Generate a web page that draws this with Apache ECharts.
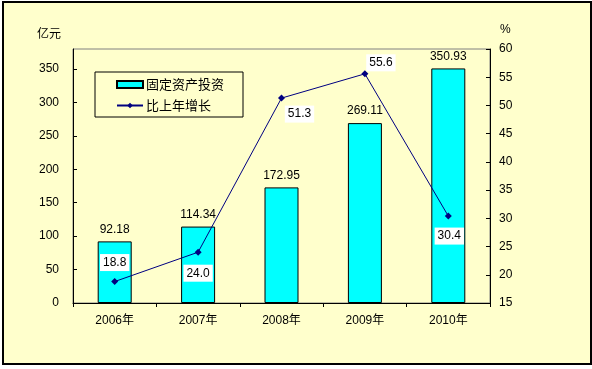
<!DOCTYPE html>
<html><head><meta charset="utf-8">
<script src="https://cdn.jsdelivr.net/npm/echarts@6/dist/echarts.min.js"></script>
<style>html,body{margin:0;padding:0;background:#fff}#c{width:592px;height:369px}</style>
</head><body><div id="c"></div>
<script>
const categories = ['2006年','2007年','2008年','2009年','2010年'];
const investment = [92.18, 114.34, 172.95, 269.11, 350.93];
const growth = [18.8, 24.0, 51.3, 55.6, 30.4];
const leftTicks = {min:0, max:380, interval:50};
const rightTicks = {min:15, max:60, interval:5};

// label offsets for growth labels (style only)
const growthLabelOffsets = [[0,-19],[0,21],[18,16],[16,-11],[1,20]];

const FONT = 'Liberation Sans, Arial, Noto Sans CJK SC, sans-serif';
const chart = echarts.init(document.getElementById('c'), null, {renderer:'canvas'});
chart.setOption({
  backgroundColor: '#fff',
  animation: false,
  textStyle: {fontFamily: FONT},
  graphic: [{
    type: 'rect', z: -10,
    shape: {x: 3, y: 2, width: 588, height: 362},
    style: {fill: '#FFFFCC', stroke: '#000', lineWidth: 2}
  }, {
    type: 'text', left: 37, top: 27,
    style: {text: '亿元', font: '12px Noto Sans CJK SC', fill: '#000'}
  }, {
    type: 'text', left: 500, top: 24,
    style: {text: '%', font: '12px Liberation Sans', fill: '#000'}
  }],
  grid: {left: 73, top: 49, width: 417, height: 254, show: true, borderColor: '#808080', borderWidth: 1, backgroundColor: 'transparent'},
  legend: {
    left: 95, top: 72, orient: 'vertical',
    borderColor: '#000', borderWidth: 1, borderRadius: 0,
    padding: [6, 19, 5, 21],
    itemWidth: 26, itemHeight: 7, itemGap: 8,
    textStyle: {fontSize: 13, fontFamily: 'Noto Sans CJK SC', color: '#000', padding: [0,0,0,-2]},
    data: [{name: '固定资产投资', icon: 'rect'}, {name: '比上年增长'}]
  },
  xAxis: {
    type: 'category', data: categories,
    axisLine: {lineStyle: {color: '#000', width: 1}},
    axisTick: {show: true, inside: false, length: 4, lineStyle: {color: '#000'}},
    axisLabel: {color: '#000', fontSize: 12, margin: 12, fontFamily: FONT}
  },
  yAxis: [{
    type: 'value', min: leftTicks.min, max: leftTicks.max, interval: leftTicks.interval,
    axisLine: {show: true, lineStyle: {color: '#000'}},
    axisTick: {show: true, inside: true, length: 4, lineStyle: {color: '#000'}},
    axisLabel: {color: '#000', fontSize: 12, margin: 14, showMaxLabel: false, fontFamily: FONT},
    splitLine: {show: false}
  }, {
    type: 'value', min: rightTicks.min, max: rightTicks.max, interval: rightTicks.interval,
    position: 'right',
    axisLine: {show: true, lineStyle: {color: '#000'}},
    axisTick: {show: true, inside: true, length: 4, lineStyle: {color: '#000'}},
    axisLabel: {color: '#000', fontSize: 12, margin: 9, fontFamily: FONT},
    splitLine: {show: false}
  }],
  series: [{
    name: '固定资产投资', type: 'bar', yAxisIndex: 0,
    data: investment, barWidth: 34,
    itemStyle: {color: '#00FFFF', borderColor: '#000', borderWidth: 1},
    label: {show: true, position: 'top', distance: 6, color: '#000', fontSize: 12, fontFamily: FONT,
      formatter: p => p.value.toFixed(2)}
  }, {
    name: '比上年增长', type: 'line', yAxisIndex: 1,
    data: growth.map((v, i) => ({value: v, label: {offset: growthLabelOffsets[i]}})),
    symbol: 'diamond', symbolSize: 7,
    lineStyle: {color: '#000080', width: 1},
    itemStyle: {color: '#000080'},
    label: {show: true, position: 'inside', color: '#000', fontSize: 12, fontFamily: FONT,
      backgroundColor: '#fff', padding: [3, 3, 2, 3],
      formatter: p => p.value.toFixed(1)},
    z: 5
  }]
});
</script></body></html>
